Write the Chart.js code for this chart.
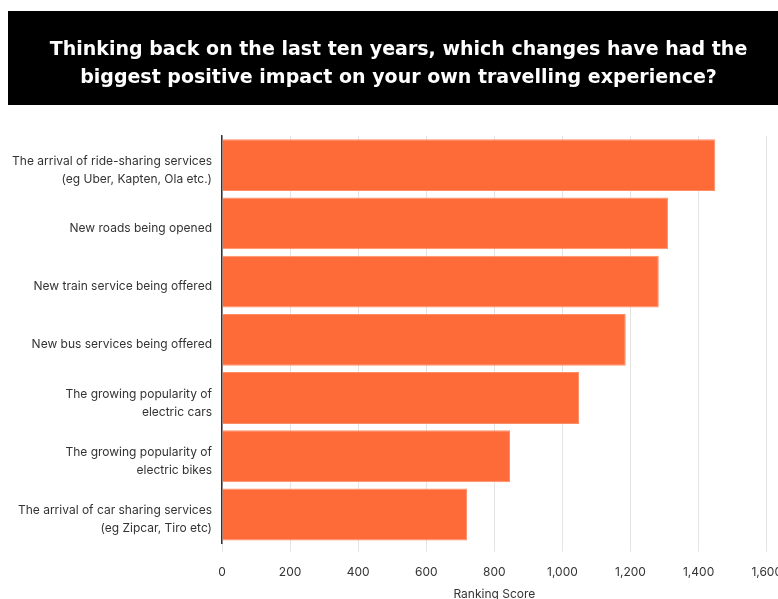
<!DOCTYPE html>
<html>
<head>
<meta charset="utf-8">
<script src="https://cdn.jsdelivr.net/npm/chart.js@4/dist/chart.umd.min.js"></script>
<style>
  html, body { margin: 0; padding: 0; background: #ffffff; overflow: hidden; width: 778px; height: 599px; }
  #wrap { position: absolute; left: 0; top: 0; width: 797px; height: 603px; }
</style>
</head>
<body>
<div id="wrap"><canvas id="c" width="797" height="603"></canvas></div>
<script>
const titleLines = [
  "Thinking back on the last ten years, which changes have had the",
  "biggest positive impact on your own travelling experience?"
];
const categories = [
  ["The arrival of ride-sharing services", "(eg Uber, Kapten, Ola etc.)"],
  "New roads being opened",
  "New train service being offered",
  "New bus services being offered",
  ["The growing popularity of", "electric cars"],
  ["The growing popularity of", "electric bikes"],
  ["The arrival of car sharing services", "(eg Zipcar, Tiro etc)"]
];
const rankingScores = [1449, 1310, 1283, 1186, 1049, 846, 720];
const xAxisTitle = "Ranking Score";
const xMin = 0, xMax = 1600, xStep = 200;

const bannerPlugin = {
  id: 'banner',
  beforeDraw(chart) {
    const ctx = chart.ctx;
    ctx.save();
    ctx.fillStyle = '#000000';
    ctx.fillRect(8, 11, chart.width - 8, 94);
    ctx.restore();
  }
};

new Chart(document.getElementById('c'), {
  type: 'bar',
  data: {
    labels: categories,
    datasets: [{
      data: rankingScores,
      backgroundColor: '#FF6A39',
      borderColor: '#FF8E66',
      borderWidth: 1,
      barPercentage: 0.89,
      categoryPercentage: 1.0
    }]
  },
  options: {
    indexAxis: 'y',
    responsive: false,
    animation: false,
    devicePixelRatio: 1,
    layout: { padding: { top: 11, left: 0, right: 0, bottom: 1 } },
    plugins: {
      legend: { display: false },
      tooltip: { enabled: false },
      title: {
        display: true,
        text: titleLines,
        color: '#ffffff',
        font: { family: 'DejaVu Sans', weight: 'bold', size: 19, lineHeight: 28 / 19 },
        padding: { top: 25, bottom: 44 }
      }
    },
    scales: {
      x: {
        min: xMin, max: xMax,
        ticks: {
          stepSize: xStep,
          color: '#333333',
          font: { family: 'Inter', size: 12, lineHeight: 1.0 },
          padding: 15,
          maxRotation: 0,
          callback: v => v.toLocaleString('en-US')
        },
        grid: { color: '#e3e3e3', lineWidth: 1, tickLength: 8, drawTicks: true },
        border: { display: false },
        title: {
          display: true, text: xAxisTitle, color: '#333333',
          font: { family: 'Inter', size: 12 }, padding: { top: -6, bottom: 0 }
        }
      },
      y: {
        ticks: {
          color: '#333333',
          font: { family: 'Inter', size: 12, lineHeight: 1.5 },
          padding: 10,
          labelOffset: 5,
          crossAlign: 'near'
        },
        grid: { display: false, drawTicks: false },
        border: { display: true, color: '#333333', width: 1.5 },
        afterFit(scale) { scale.width = 222; }
      }
    }
  },
  plugins: [bannerPlugin]
});
</script>
</body>
</html>
